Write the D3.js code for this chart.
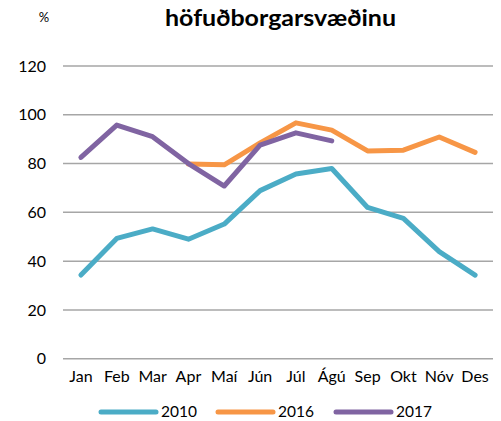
<!DOCTYPE html>
<html><head><meta charset="utf-8">
<script src="https://cdn.jsdelivr.net/npm/d3@7"></script>
<style>body{margin:0;background:#fff}svg{display:block}text{font-family:Lato,"Open Sans",sans-serif}</style>
</head><body><svg id="c" width="501" height="421"></svg>
<script>
const months = ["Jan","Feb","Mar","Apr","Maí","Jún","Júl","Ágú","Sep","Okt","Nóv","Des"];
const s2010 = [34.3,49.3,53.2,49,55.2,68.9,75.7,78,62,57.5,43.9,34.3];
const s2016 = [null,null,null,79.8,79.5,88.5,96.7,93.7,85.2,85.5,90.9,84.6];
const s2017 = [82.5,95.8,91,80,70.8,87.6,92.6,89.3,null,null,null,null];
const yTicks = [0,20,40,60,80,100,120];
const seriesNames = ["2010","2016","2017"];
const colors = ["#4BACC6","#F79646","#8064A2"];
const title = "höfuðborgarsvæðinu";
const unit = "%";

const svg = d3.select("#c");
const x = d3.scaleBand().domain(months).range([63,493]);
const y = d3.scaleLinear().domain([0,120]).range([358.7,66]);

svg.append("g").selectAll("line").data(yTicks).join("line")
  .attr("x1",63).attr("x2",493).attr("y1",d=>y(d)).attr("y2",d=>y(d))
  .attr("stroke","#a6a6a6").attr("stroke-width",1.5);

const yAxis = d3.axisLeft(y).tickValues(yTicks).tickSize(0).tickPadding(0);
const gy = svg.append("g").attr("transform","translate(46,0)").call(yAxis);
gy.select(".domain").remove();
gy.selectAll("text").attr("font-size",16).attr("fill","#000").attr("font-family","Lato");

const xAxis = d3.axisBottom(x).tickSize(0).tickPadding(0);
const gx = svg.append("g").attr("transform","translate(0,371)").call(xAxis);
gx.select(".domain").remove();
gx.selectAll("text").attr("font-size",16).attr("fill","#000").attr("font-family","Lato");

const line = d3.line().defined(d=>d.v!=null).x(d=>x(d.m)+x.bandwidth()/2).y(d=>y(d.v));
[s2010,s2016,s2017].forEach((s,i)=>{
  svg.append("path").datum(s.map((v,j)=>({m:months[j],v})))
    .attr("d",line).attr("fill","none").attr("stroke",colors[i])
    .attr("stroke-width",5).attr("stroke-linejoin","round").attr("stroke-linecap","round");
});

svg.append("text").attr("x",165).attr("y",26)
  .attr("font-size",22).attr("font-weight","bold")
  .attr("textLength",231).attr("lengthAdjust","spacingAndGlyphs").text(title);
svg.append("text").attr("x",44).attr("y",22).attr("text-anchor","middle")
  .attr("font-size",13).text(unit);

const lx = [101,218,336];
const lg = svg.append("g").selectAll("g").data(seriesNames).join("g")
  .attr("transform",(d,i)=>`translate(${lx[i]},412)`);
lg.append("line").attr("x1",0).attr("x2",55).attr("stroke",(d,i)=>colors[i])
  .attr("stroke-width",5).attr("stroke-linecap","round");
lg.append("text").attr("x",60).attr("y",5).attr("font-size",15.5).text(d=>d);
</script></body></html>
